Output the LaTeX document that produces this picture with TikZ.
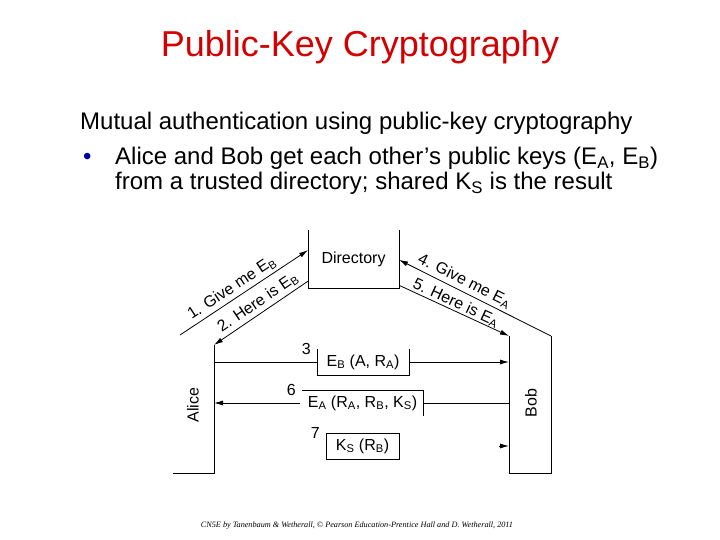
\documentclass[tikz,border=0pt]{standalone}
\usepackage{fontspec}
\setmainfont{Liberation Sans}
\newfontfamily\creditfont{Liberation Serif}
\usetikzlibrary{positioning,arrows.meta,calc}
\definecolor{titlered}{RGB}{210,0,0}
\definecolor{bulletblue}{RGB}{0,0,170}
\newcommand{\sbx}[1]{\textsubscript{#1}}
\tikzset{
    node distance=6pt,
    lane/.style = {
        shape=rectangle,
        inner sep=0pt,
        outer sep=0pt
    },
    msgbox/.style = {
        shape=rectangle,
        inner sep=0pt,
        outer sep=0pt,
        minimum height=26pt
    },
    tag/.style = {
        font=\fontsize{16}{18}\selectfont,
        inner sep=0pt
    },
    slide/.style = {
        font=\fontsize{24}{28}\selectfont,
        anchor=base west,
        inner sep=0pt
    },
    hop/.style = {
        line width=0.8pt
    },
    >={Latex[length=9pt,width=5pt]},
}

\begin{document}
\begin{tikzpicture}[x=1pt,y=-1pt]
    \useasboundingbox (0,0) rectangle (720,540);

    % slide text
    \node[font=\fontsize{36}{40}\selectfont, text=titlered, anchor=base, inner sep=0pt] (title) at (360,57) {Public-Key Cryptography};
    \node[slide] (intro) at (80,130) {Mutual authentication using public-key cryptography};
    \node[slide, text=bulletblue] (dot) at (83,165) {\textbullet};
    \node[slide] (point1) at (115,165) {Alice and Bob get each other’s public keys (E\sbx{A}, E\sbx{B})};
    \node[slide] (point2) at (115,190) {from a trusted directory; shared K\sbx{S} is the result};

    % directory and the two parties
    \node[lane, tag, minimum width=91pt, minimum height=58pt] (dir) at (353.5,259) {Directory};
    \draw[hop] (dir.north west) -- (dir.south west) -- (dir.south east) -- (dir.north east);

    \node[lane, minimum width=41pt, minimum height=128pt] (alane) at (193.5,409) {};
    \draw[hop] (alane.north east) -- (alane.south east) -- (alane.south west);
    \node[tag, rotate=90] (alice) at (193,405) {Alice};

    \node[lane, minimum width=42pt, minimum height=137pt] (blane) at (530,404.5) {};
    \draw[hop] (blane.north west) -- (blane.south west) -- (blane.south east) -- (blane.north east);
    \node[tag, rotate=90] (bob) at (531,403) {Bob};

    % requests to the directory
    \coordinate (astart) at (180,335);
    \draw[hop, ->] (astart) -- (dir.169) node[tag, sloped, above=3pt, pos=0.45] (q1) {1. Give me E\sbx{B}};
    \draw[hop, <-] (alane.north east) -- (dir.206) node[tag, sloped, above=3pt, pos=0.53] (q2) {2. Here is E\sbx{B}};
    \draw[hop, <-] (dir.-1) -- (blane.north east) node[tag, sloped, above=3pt, pos=0.4] (q4) {4. Give me E\sbx{A}};
    \draw[hop, ->] (dir.330) -- (blane.north west) node[tag, sloped, above=0pt, pos=0.49] (q5) {5. Here is E\sbx{A}};

    % message 3
    \node[tag, msgbox, minimum width=92pt] (m3) at (363,362) {E\sbx{B} (A, R\sbx{A})};
    \draw[hop] (m3.north west) -- (m3.south west) -- (m3.south east) -- (m3.north east);
    \draw[hop] (alane.east |- m3.west) -- (m3.west);
    \draw[hop, ->] (m3.east) -- (blane.west |- m3.east);
    \node[tag, left=6pt of m3.north west] (n3) {3};

    % message 6
    \node[tag, msgbox, minimum width=121pt] (m6) at (362.5,403) {E\sbx{A} (R\sbx{A}, R\sbx{B}, K\sbx{S})};
    \draw[hop] (m6.north west) -- (m6.north east) -- (m6.south east);
    \draw[hop] (blane.west |- m6.east) -- (m6.east);
    \draw[hop, ->] ($(m6.west)+(-2,0)$) -- (alane.east |- m6.west);
    \node[tag, left=6pt of m6.north west] (n6) {6};

    % message 7
    \node[tag, msgbox, hop, draw, minimum width=73pt] (m7) at (362.5,446) {K\sbx{S} (R\sbx{B})};
    \coordinate (tail7) at ($(blane.west |- m7.east)+(-10,0)$);
    \draw[hop, ->] (tail7) -- (blane.west |- m7.east);
    \node[tag, left=6pt of m7.north west] (n7) {7};

    % credit line
    \node[font=\creditfont\itshape\fontsize{8.2}{10}\selectfont, anchor=base, inner sep=0pt] (credit) at (357,527) {CN5E by Tanenbaum \& Wetherall, \copyright{} Pearson Education-Prentice Hall and D. Wetherall, 2011};
\end{tikzpicture}
\end{document}
